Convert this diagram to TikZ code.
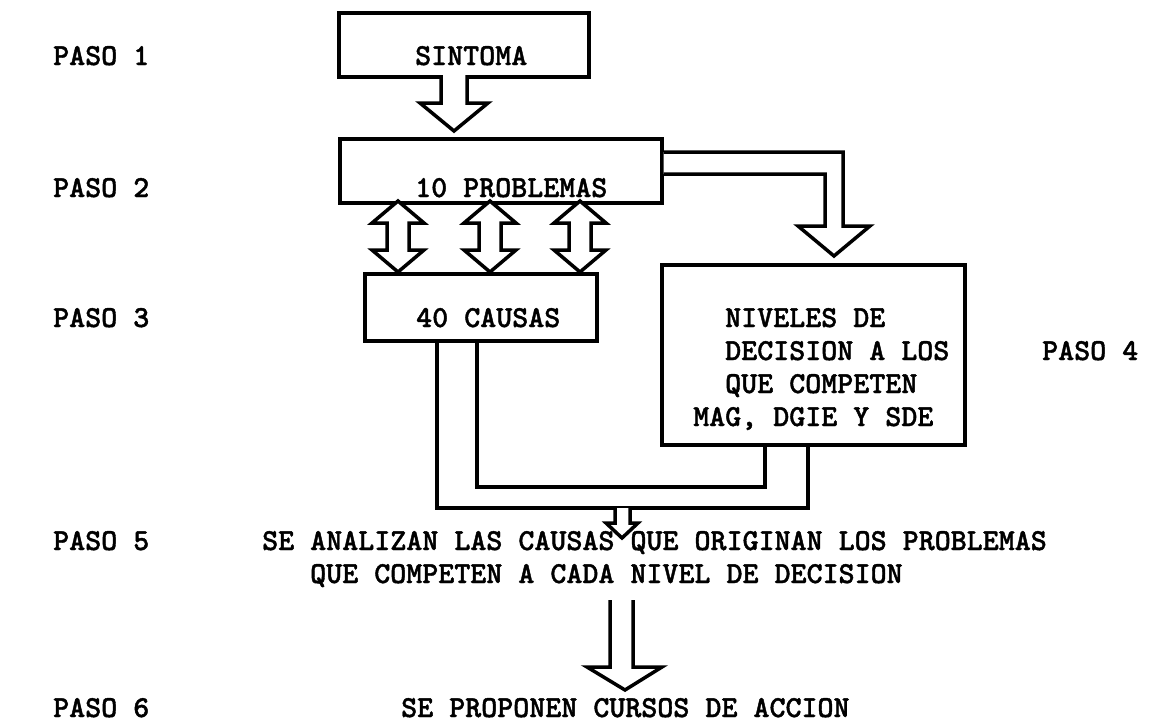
\documentclass[tikz,border=0pt]{standalone}
\usepackage{fontspec}
\usetikzlibrary{calc}
\newfontfamily\twfam{lmmonolt10-bold.otf}[FakeBold=1.3]
\newcommand\twfont{\fontsize{30.5}{36}\twfam\selectfont}
\tikzset{
  box/.style={draw, line width=3.5pt, inner sep=0pt, anchor=north west},
  blk/.style={draw, line width=3.5pt, fill=white, line join=miter},
  wire/.style={draw, line width=3.5pt, line join=miter},
  lbl/.style={inner sep=0pt, anchor=base west, font=\twfont}
}
\begin{document}
\begin{tikzpicture}[x=1pt,y=-1pt]
\useasboundingbox (0,0) rectangle (1165,723);
% boxes
\node[box, minimum width=250pt, minimum height=64pt] (sint) at (337,11) {};
\node[box, minimum width=322pt, minimum height=64pt] (prob) at (338,137) {};
\node[box, minimum width=232pt, minimum height=67pt] (caus) at (363,272) {};
\node[box, minimum width=303pt, minimum height=180pt] (niv) at (660,263) {};
% texts
\node[lbl] (p1) at (53,65) {PASO 1};
\node[lbl] (t1) at (415,65) {SINTOMA};
\node[lbl] (p2) at (53,197) {PASO 2};
\node[lbl] (t2) at (415,197) {10 PROBLEMAS};
\node[lbl] (p3) at (53,327) {PASO 3};
\node[lbl] (t3) at (416,327) {40 CAUSAS};
\node[lbl] (n1) at (725,327) {NIVELES DE};
\node[lbl] (n2) at (725,360) {DECISION A LOS};
\node[lbl] (n3) at (725,393) {QUE COMPETEN};
\node[lbl] (n4) at (693,426) {MAG, DGIE Y SDE};
\node[lbl] (p4) at (1042,360) {PASO 4};
\node[lbl] (p5) at (53,550) {PASO 5};
\node[lbl] (t5a) at (262,550) {SE ANALIZAN LAS CAUSAS QUE ORIGINAN LOS PROBLEMAS};
\node[lbl] (t5b) at (310,583) {QUE COMPETEN A CADA NIVEL DE DECISION};
\node[lbl] (p6) at (53,717) {PASO 6};
\node[lbl] (t6) at (401,717) {SE PROPONEN CURSOS DE ACCION};
% arrow sintoma -> problemas
\draw[blk] (441,75) -- (441,103) -- (420,103) -- (454,131) -- (488,103) -- (467,103) -- (467,75);
% double arrows problemas <-> causas
\foreach \cx in {398,490,580}{
  \draw[blk] (\cx,201) -- (\cx+26,223) -- (\cx+11,223) -- (\cx+11,250) -- (\cx+26,250)
     -- (\cx,272) -- (\cx-26,250) -- (\cx-11,250) -- (\cx-11,223) -- (\cx-26,223) -- cycle;
}
% bent arrow problemas -> niveles
\draw[blk] (prob.north east |- 0,152) -- (843,152) -- (843,226) -- (870,226) -- (834,256)
   -- (798,226) -- (825,226) -- (825,174) -- (prob.north east |- 0,174);
% merging lines
\coordinate (c1) at (caus.south west -| 437,0);
\coordinate (c2) at (caus.south west -| 477,0);
\coordinate (v1) at (niv.south west -| 808,0);
\coordinate (v2) at (niv.south west -| 765,0);
\draw[wire] (c1) -- (437,508) -- (808,508) -- (v1);
\draw[wire] (c2) -- (477,487) -- (765,487) -- (v2);
% small arrow
\draw[blk] (615,508) -- (615,523) -- (606,523) -- (622,538) -- (638,523) -- (630,523) -- (630,508);
% bottom arrow
\draw[blk] (610,600) -- (610,667) -- (587,667) -- (625,690) -- (662,667) -- (633,667) -- (633,600);
\end{tikzpicture}
\end{document}
